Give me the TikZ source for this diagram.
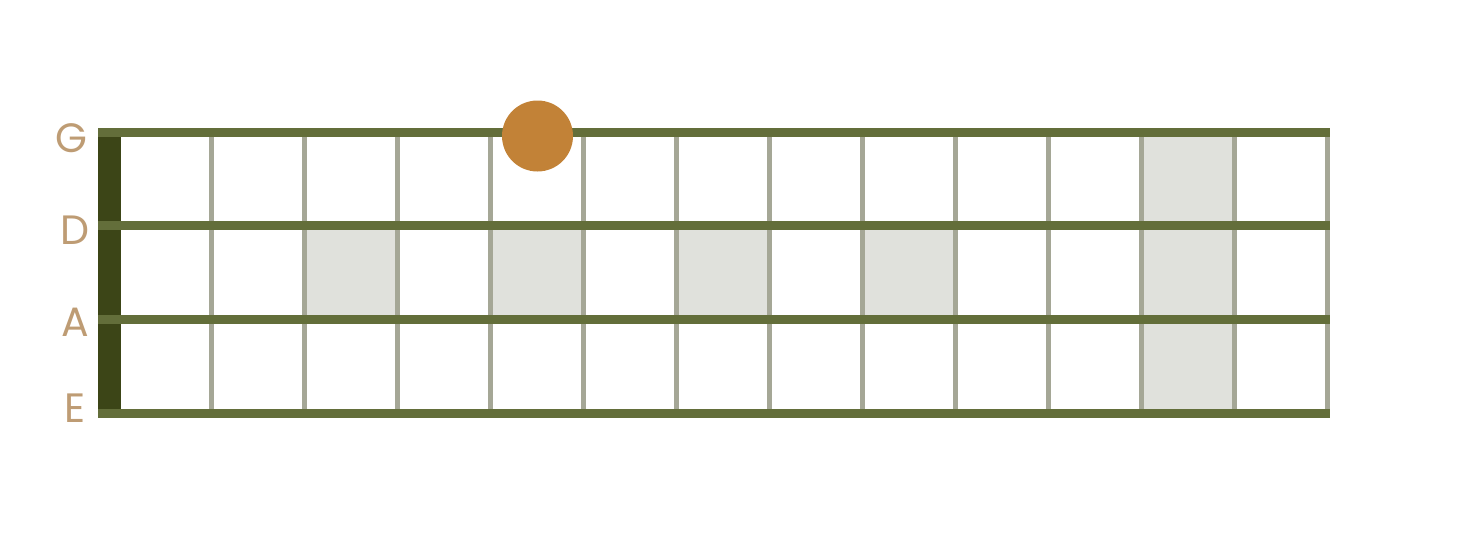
\documentclass[tikz,border=0pt]{standalone}
\usepackage{fontspec}
\setmainfont{Poppins}
\definecolor{stringc}{RGB}{99,110,58}
\definecolor{nutc}{RGB}{60,69,23}
\definecolor{fretc}{RGB}{165,167,150}
\definecolor{shadec}{RGB}{224,225,220}
\definecolor{dotc}{RGB}{194,130,55}
\definecolor{labelc}{RGB}{190,156,116}
\tikzset{
  stringline/.style={draw=stringc, line width=8.5pt},
  fretline/.style={draw=fretc, line width=5pt},
  shadecell/.style={fill=shadec},
  nutbar/.style={fill=nutc},
  notedot/.style={circle, fill=dotc, minimum size=71pt, inner sep=0pt},
  strlabel/.style={text=labelc, font=\fontsize{41}{41}\selectfont, inner sep=0pt}
}
\begin{document}
\begin{tikzpicture}[x=1pt,y=-1pt]
\useasboundingbox (0,0) rectangle (1469,549);
% string y positions
\def\yG{132.5}\def\yD{225.5}\def\yA{319.5}\def\yE{413.5}
% shaded cells
\fill[shadec] (304.1,\yD) rectangle (397.2,\yA);
\fill[shadec] (490.2,\yD) rectangle (583.3,\yA);
\fill[shadec] (676.4,\yD) rectangle (769.5,\yA);
\fill[shadec] (862.6,\yD) rectangle (955.6,\yA);
\fill[shadec] (1141.8,\yG) rectangle (1234.9,\yE);
% frets
\foreach \k in {0,...,12}{
  \draw[fretline] ({211+93.08*\k},\yG) -- ({211+93.08*\k},\yE);
}
% nut
\fill[nutbar] (98.3,128) rectangle (121,417.5);
% strings
\foreach \yy/\nm in {\yG/G,\yD/D,\yA/A,\yE/E}{
  \coordinate (s\nm l) at (98.3,\yy);
  \coordinate (s\nm r) at (1330,\yy);
  \draw[stringline] (s\nm l) -- (s\nm r);
}
% dot
\node[notedot] (dot) at (537.5,136) {};
% labels
\node[strlabel] (lG) at (71.5,138) {G};
\node[strlabel] (lD) at (75,230) {D};
\node[strlabel] (lA) at (75,322) {A};
\node[strlabel] (lE) at (75,408.5) {E};
\end{tikzpicture}
\end{document}
